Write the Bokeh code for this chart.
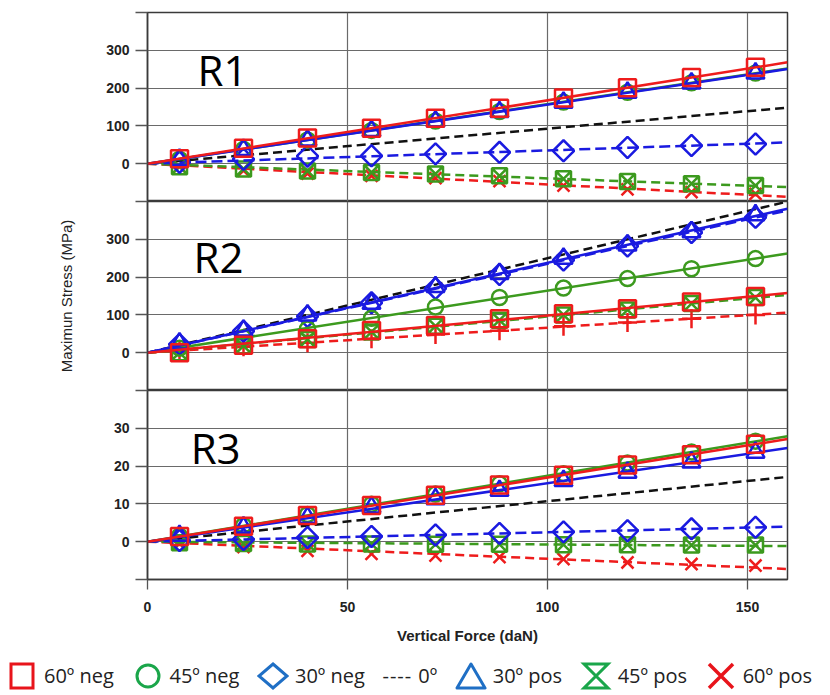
import numpy as np
from bokeh.plotting import figure
from bokeh.layouts import column
from bokeh.models import Range1d, FixedTicker, Label, Div
from bokeh.embed import file_html
from bokeh.resources import INLINE

# ---------------- data ----------------
force = [8, 24, 40, 56, 72, 88, 104, 120, 136, 152]
x_ticks = [0, 50, 100, 150]
x_max = 160

series = ["60º neg", "45º neg", "30º neg", "0º", "30º pos", "45º pos", "60º pos"]

# R1 (MPa)
r1_60neg = [13, 41, 68, 94, 120, 147, 174, 201, 228, 255]
r1_45neg = [12, 38, 63, 88, 113, 138, 163, 189, 214, 240]
r1_30neg = [4, 12, 20, 21, 26, 30, 34, 43, 48, 52]
r1_0 = [7, 22, 37, 52, 67, 82, 96, 111, 126, 141]
r1_30pos = [11, 37, 62, 87, 112, 137, 162, 188, 213, 239]
r1_45pos = [-8, -14, -19, -23, -27, -32, -40, -47, -53, -58]
r1_60pos = [-8, -18, -26, -32, -38, -46, -58, -68, -75, -80]

# R2 (MPa)
r2_60neg = [0, 20, 37, 59, 72, 90, 103, 116, 134, 149]
r2_45neg = [12, 40, 63, 91, 121, 146, 171, 196, 222, 249]
r2_30neg = [22, 57, 96, 132, 170, 207, 245, 282, 318, 358]
r2_0 = [20, 61, 100, 141, 181, 219, 261, 300, 339, 379]
r2_30pos = [25, 59, 99, 130, 174, 209, 249, 284, 319, 364]
r2_45pos = [0, 18, 35, 55, 70, 86, 100, 113, 130, 146]
r2_60pos = [5, 16, 26, 37, 48, 58, 70, 80, 90, 100]

# R3 (MPa)
r3_60neg = [1.4, 4.1, 6.9, 9.6, 12.3, 15.0, 17.6, 20.3, 23.0, 25.8]
r3_45neg = [1.5, 4.3, 7.2, 9.9, 12.6, 15.3, 18.0, 20.8, 23.7, 26.6]
r3_30neg = [0.3, 0.6, 1.1, 1.4, 1.8, 2.2, 2.6, 2.9, 3.4, 3.8]
r3_0 = [0.9, 2.6, 4.3, 6.0, 7.7, 9.4, 11.1, 12.8, 14.6, 16.3]
r3_30pos = [1.6, 3.8, 6.4, 9.1, 11.3, 13.5, 16.1, 18.3, 21.0, 23.6]
r3_45pos = [-0.3, -0.5, -0.6, -0.6, -0.7, -0.7, -0.8, -0.8, -0.9, -0.9]
r3_60pos = [-0.5, -1.4, -2.4, -3.2, -3.7, -4.1, -4.6, -5.5, -5.9, -6.3]

panels = [
    ("R1", [-100, 0, 100, 200, 300, 400], [r1_60neg, r1_45neg, r1_30neg, r1_0, r1_30pos, r1_45pos, r1_60pos]),
    ("R2", [-100, 0, 100, 200, 300, 400], [r2_60neg, r2_45neg, r2_30neg, r2_0, r2_30pos, r2_45pos, r2_60pos]),
    ("R3", [-10, 0, 10, 20, 30, 40], [r3_60neg, r3_45neg, r3_30neg, r3_0, r3_30pos, r3_45pos, r3_60pos]),
]

# ---------------- styles ----------------
RED, GREEN, BLUE, BLACK = "#ee1c1c", "#3c9a1e", "#1a1ae0", "#111111"
styles = {
    "60º neg": dict(color=RED, dash="solid", marker="square", size=17, angle=0.0),
    "45º neg": dict(color=GREEN, dash="solid", marker="circle", size=15, angle=0.0),
    "30º neg": dict(color=BLUE, dash="11 5", marker="square", size=15, angle=np.pi / 4),
    "0º": dict(color=BLACK, dash="9 5", marker=None, size=0, angle=0.0),
    "30º pos": dict(color=BLUE, dash="solid", marker="triangle", size=18, angle=0.0),
    "45º pos": dict(color=GREEN, dash="9 5", marker="square_x", size=15, angle=0.0),
    "60º pos": dict(color=RED, dash="9 5", marker="x", size=17, angle=0.0),
}
draw_order = ["0º", "60º pos", "45º pos", "30º neg", "45º neg", "30º pos", "60º neg"]

# legend symbols (inline SVG shapes, 32x28 box)
LRED, LGREEN, LBLUE = "#e8141b", "#1aa64a", "#1f6fc5"
legend_symbols = {
    "60º neg": f'<rect x="5" y="2" width="22" height="24" fill="none" stroke="{LRED}" stroke-width="3"/>',
    "45º neg": f'<ellipse cx="16" cy="14" rx="11" ry="11" fill="none" stroke="{LGREEN}" stroke-width="3"/>',
    "30º neg": f'<polygon points="16,2 30,14 16,26 2,14" fill="none" stroke="{LBLUE}" stroke-width="3"/>',
    "0º": None,
    "30º pos": f'<polygon points="16,2 30,26 2,26" fill="none" stroke="{LBLUE}" stroke-width="3" stroke-linejoin="round"/>',
    "45º pos": f'<path d="M4,2 L28,2 L4,26 L28,26 Z" fill="none" stroke="{LGREEN}" stroke-width="3"/>',
    "60º pos": f'<path d="M4,2 L28,26 M28,2 L4,26" fill="none" stroke="{LRED}" stroke-width="3.5"/>',
}

TICK_FONT = "Liberation Sans"
FRAME_W, FRAME_H = 640, 189
LEFT, RIGHT = 147, 40
label_pos = {"R1": (12.5, 249), "R2": (11.5, 254), "R3": (10.8, 25.0)}

figs = []
for idx, (name, yticks, data) in enumerate(panels):
    last = idx == len(panels) - 1
    p = figure(
        frame_width=FRAME_W, frame_height=FRAME_H,
        min_border_left=LEFT, min_border_right=RIGHT,
        min_border_top=12 if idx == 0 else 0,
        min_border_bottom=82 if last else 0,
        x_range=Range1d(0, x_max), y_range=Range1d(yticks[0], yticks[-1]),
        x_axis_location="below" if last else None,
        toolbar_location=None, output_backend="svg",
    )
    p.background_fill_color = "white"
    p.border_fill_color = "white"
    p.outline_line_color = "#3a3a3a"
    p.outline_line_width = 1.5

    p.xgrid.ticker = FixedTicker(ticks=x_ticks)
    p.ygrid.ticker = FixedTicker(ticks=yticks)
    for g in (p.xgrid, p.ygrid):
        g.grid_line_color = "#6a6a6a"
        g.grid_line_width = 1.2

    ya = p.yaxis[0]
    ya.ticker = FixedTicker(ticks=yticks)
    ya.major_label_overrides = {yticks[0]: "", yticks[-1]: ""}
    ya.major_tick_out = 12
    ya.major_tick_in = 0
    ya.minor_tick_out = 0
    ya.minor_tick_in = 0
    ya.major_tick_line_color = "#555555"
    ya.major_tick_line_width = 1.3
    ya.axis_line_color = "#3a3a3a"
    ya.axis_line_width = 1.5
    ya.major_label_standoff = 6
    ya.major_label_text_font = TICK_FONT
    ya.major_label_text_font_style = "bold"
    ya.major_label_text_font_size = "14px"
    ya.major_label_text_color = "#222222"
    if name == "R2":
        ya.axis_label = "Maximun Stress (MPa)"
        ya.axis_label_text_font = TICK_FONT
        ya.axis_label_text_font_style = "normal"
        ya.axis_label_text_font_size = "15px"
        ya.axis_label_text_color = "#222222"
        ya.axis_label_standoff = 28

    if last:
        xa = p.xaxis[0]
        xa.ticker = FixedTicker(ticks=x_ticks)
        xa.major_tick_out = 10
        xa.major_tick_in = 0
        xa.minor_tick_out = 0
        xa.minor_tick_in = 0
        xa.major_tick_line_color = "#555555"
        xa.major_tick_line_width = 1.3
        xa.axis_line_color = "#3a3a3a"
        xa.axis_line_width = 1.5
        xa.major_label_standoff = 12
        xa.major_label_text_font = TICK_FONT
        xa.major_label_text_font_style = "bold"
        xa.major_label_text_font_size = "14px"
        xa.major_label_text_color = "#222222"
        xa.axis_label = "Vertical Force (daN)"
        xa.axis_label_text_font = TICK_FONT
        xa.axis_label_text_font_style = "bold"
        xa.axis_label_text_font_size = "15px"
        xa.axis_label_text_color = "#222222"
        xa.axis_label_standoff = 12

    xs = np.array(force, dtype=float)
    x_line = np.array([0.0, float(x_max)])
    for s in draw_order:
        ys = np.array(data[series.index(s)], dtype=float)
        st = styles[s]
        slope = float(np.sum(xs * ys) / np.sum(xs * xs))  # trend line through origin
        p.line(x_line, slope * x_line, line_color=st["color"], line_width=2.5,
               line_dash=st["dash"])
        if st["marker"] is not None:
            marker = st["marker"]
            size = st["size"]
            if name == "R2" and s == "60º pos":
                marker, size = "cross", 19
            p.scatter(xs, ys, marker=marker, size=size, angle=st["angle"],
                      fill_color=None, line_color=st["color"], line_width=2.5)

    lx, ly = label_pos[name]
    p.add_layout(Label(x=lx, y=ly, text=name, text_font="Open Sans",
                       text_font_size="42px", text_color="black",
                       text_baseline="alphabetic"))
    figs.append(p)

# ---------------- legend strip (HTML) ----------------
parts = []
for s in series:
    sym = legend_symbols[s]
    if sym is None:
        parts.append(f'<span style="display:inline-flex;align-items:center;">'
                     f'<span style="letter-spacing:1px;margin-right:6px;">----</span>{s}</span>')
    else:
        parts.append(f'<span style="display:inline-flex;align-items:center;">'
                     f'<svg width="32" height="28" viewBox="0 0 32 28" style="margin-right:6px;">{sym}</svg>'
                     f'{s}</span>')
legend_html = (
    '<div style="display:flex;align-items:center;justify-content:space-between;'
    'width:812px;height:30px;padding-left:6px;font-family:\'Open Sans\',sans-serif;'
    'font-size:20px;color:#222222;white-space:nowrap;">' + "".join(parts) + "</div>"
)
legend_div = Div(text=legend_html, width=828, height=30, margin=(0, 0, 0, 0))

layout = column(*figs, legend_div, spacing=0)
html = file_html(layout, INLINE, "Maximum stress")
open("out.html", "w").write(html)
